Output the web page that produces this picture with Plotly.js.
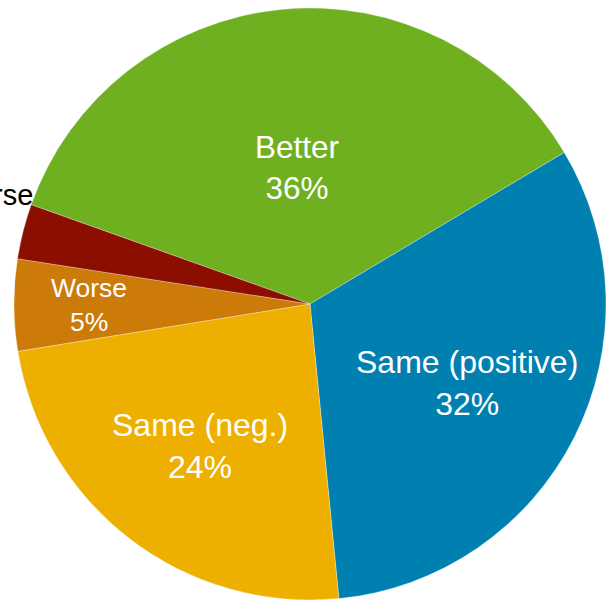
<!DOCTYPE html>
<html>
<head>
<meta charset="utf-8">
<script src="https://cdn.plot.ly/plotly-3.0.1.min.js"></script>
<style>html,body{margin:0;padding:0;background:#fff;}#chart{width:607px;height:603px;}</style>
</head>
<body>
<div id="chart"></div>
<script>
const labels = ["Better", "Same (positive)", "Same (neg.)", "Worse", "Much worse"];
const values = [36, 32, 24, 5, 3];
const colors = ["#6FB020", "#0080B0", "#EEB000", "#CC7A08", "#8C0E00"];

// label placement (style): radial fraction of the radius, font size, inside?
const labelRadius = [0.462, 0.593, 0.607, 0.747, 1.0];
const labelSize = [31.5, 32, 32, 26.5, 29];
const labelInside = [true, true, true, true, false];

const W = 607, H = 603;
const M = {l: 0, r: 0, t: 8, b: 3};
const dom = [14 / W, 606 / W];
const rotation = -70.4;

const trace = {
  type: "pie",
  labels: labels,
  values: values,
  sort: false,
  direction: "clockwise",
  rotation: rotation,
  marker: {colors: colors, line: {color: "rgba(255,255,255,0.6)", width: 0.5}},
  textinfo: "none",
  domain: {x: dom, y: [0, 1]},
  hoverinfo: "none"
};

// geometry of the pie in pixels (same as Plotly's pie layout)
const plotW = W - M.l - M.r, plotH = H - M.t - M.b;
const cxPx = M.l + plotW * (dom[0] + dom[1]) / 2;
const cyPx = M.t + plotH / 2;
const R = Math.min(plotW * (dom[1] - dom[0]), plotH) / 2;
const toPaperX = px => (px - M.l) / plotW;
const toPaperY = py => (M.t + plotH - py) / plotH;

const total = values.reduce((a, b) => a + b, 0);
const annotations = [];
let start = rotation;
values.forEach((v, i) => {
  const span = v / total * 360;
  const pct = Math.round(v / total * 100) + "%";
  if (labelInside[i]) {
    const mid = (start + span / 2) * Math.PI / 180;
    const r = R * labelRadius[i];
    annotations.push({
      xref: "paper", yref: "paper",
      x: toPaperX(cxPx + r * Math.sin(mid)),
      y: toPaperY(cyPx - r * Math.cos(mid)),
      text: labels[i] + "<br>" + pct,
      showarrow: false, xanchor: "center", yanchor: "middle",
      font: {family: "Liberation Sans, Arial, sans-serif", size: labelSize[i], color: "#fff"}
    });
  } else {
    const edge = (start + span) * Math.PI / 180;
    const r = R * labelRadius[i];
    annotations.push({
      xref: "paper", yref: "paper",
      x: toPaperX(cxPx + r * Math.sin(edge)),
      y: toPaperY(cyPx - r * Math.cos(edge)),
      text: labels[i],
      showarrow: false, xanchor: "right", yanchor: "middle",
      xshift: 4, yshift: 10,
      font: {family: "Liberation Sans, Arial, sans-serif", size: labelSize[i], color: "#000"}
    });
  }
  start += span;
});

Plotly.newPlot("chart", [trace], {
  width: W, height: H,
  margin: M,
  showlegend: false,
  paper_bgcolor: "#fff",
  annotations: annotations
}, {displayModeBar: false, staticPlot: true});
</script>
</body>
</html>
